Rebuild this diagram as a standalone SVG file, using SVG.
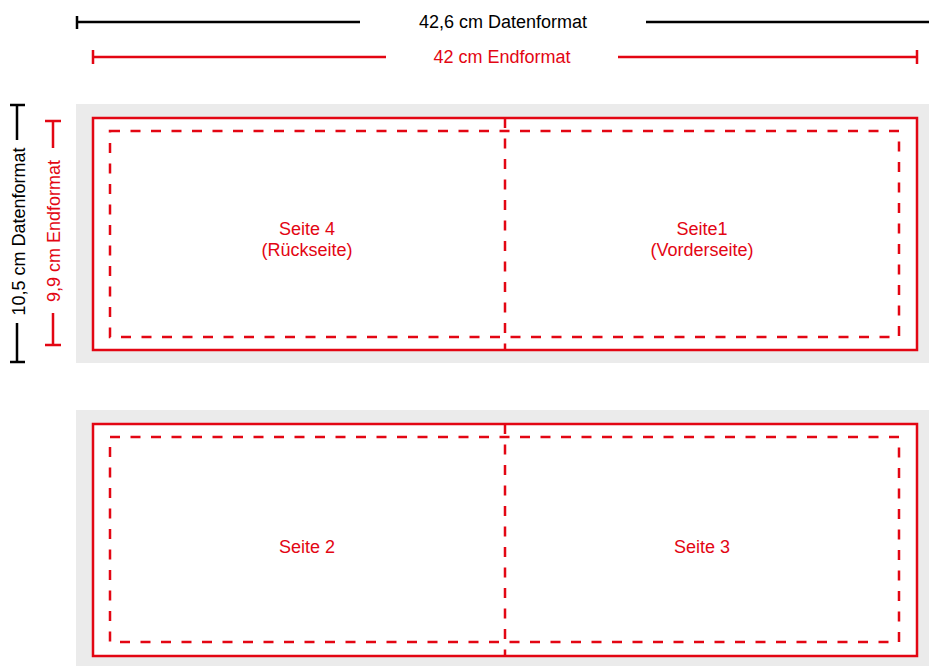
<svg xmlns="http://www.w3.org/2000/svg" width="929" height="666" viewBox="0 0 929 666">
<style>
.bg{fill:#ebebeb}
.sheet{fill:#fff;stroke:#e30613;stroke-width:2.5}
.dash{fill:none;stroke:#e30613;stroke-width:2.5;stroke-dasharray:10 10.5}
.blk{stroke:#000;stroke-width:2.5;fill:none}
.red{stroke:#e30613;stroke-width:2.5;fill:none}
text{font-family:"Liberation Sans",Arial,sans-serif;font-size:18px;text-anchor:middle}
.tb{fill:#000}
.tr{fill:#e30613}
</style>
<rect width="929" height="666" fill="#fff"/>
<g id="dimensions">
  <path class="blk" d="M77 22H360M646 22H929M77 16V29"/>
  <text class="tb" x="503" y="28">42,6 cm Datenformat</text>
  <path class="red" d="M93 57H386M618 57H917M93 50V64M917 50V64"/>
  <text class="tr" x="502" y="63">42 cm Endformat</text>
  <path class="blk" d="M17 105V140M17 323V362M10 105H25M10 362H25"/>
  <text class="tb" transform="translate(25 231.5) rotate(-90)">10,5 cm Datenformat</text>
  <path class="red" d="M53 121V148M53 313V345M45 121H61M45 345H61"/>
  <text class="tr" transform="translate(60 231) rotate(-90)">9,9 cm Endformat</text>
</g>
<g id="panel-top">
  <rect class="bg" x="76" y="104" width="853" height="259"/>
  <rect class="sheet" x="93" y="118" width="824" height="232"/>
  <rect class="dash" x="110" y="131" width="789" height="206"/>
  <line class="dash" x1="505" y1="118" x2="505" y2="350"/>
  <text class="tr" x="307" y="235">Seite 4</text>
  <text class="tr" x="307" y="256">(Rückseite)</text>
  <text class="tr" x="702" y="235">Seite1</text>
  <text class="tr" x="702" y="256">(Vorderseite)</text>
</g>
<g id="panel-bottom">
  <rect class="bg" x="76" y="410" width="853" height="256"/>
  <rect class="sheet" x="93" y="424" width="824" height="232"/>
  <rect class="dash" x="110" y="437" width="789" height="205"/>
  <line class="dash" x1="505" y1="424" x2="505" y2="656"/>
  <text class="tr" x="307" y="553">Seite 2</text>
  <text class="tr" x="702" y="553">Seite 3</text>
</g>
</svg>
